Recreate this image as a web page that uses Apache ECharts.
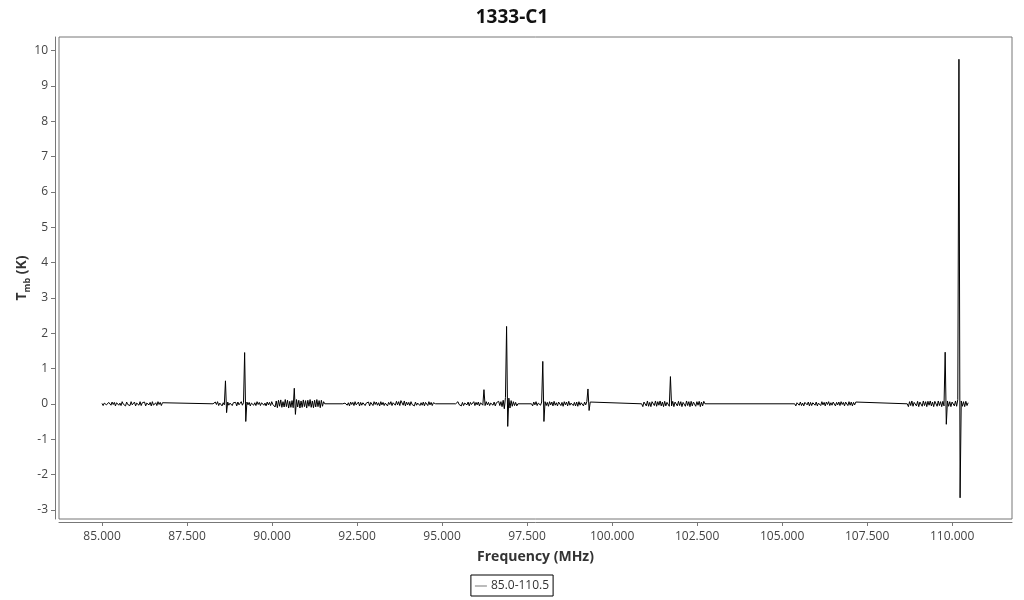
<!DOCTYPE html>
<html>
<head>
<meta charset="utf-8">
<script src="https://cdn.jsdelivr.net/npm/echarts@6/dist/echarts.min.js"></script>
<style>
  html, body { margin: 0; padding: 0; background: #fff; }
  #chart { width: 1024px; height: 600px; }
</style>
</head>
<body>
<div id="chart"></div>
<script>
// spectral windows (MHz), each one sampled evenly between start and end
var segStart = [85.00, 88.265, 92.08, 95.40, 97.63, 100.87, 105.37, 108.68]
var segEnd   = [86.81, 91.55, 94.81, 97.23, 99.39, 102.73, 107.20, 110.47]

// Tmb (K), one array per window
var seg1 = [0.01,-0.05,0.02,0.06,-0.03,-0.06,0.04,0.01,-0.04,0.05,
            -0.02,0.04,-0.06,0.03,0.05,-0.04,0.02,-0.05,0.06,-0.01,
            0.04,-0.06,0.05,-0.02,0.03,-0.05,0.06,-0.03,0.01,0.05,
            -0.06,0.02,0.04,-0.04,0.06,-0.05,0.03,-0.02,0.05,-0.06,
            0.02,0.05,-0.03,0.04,-0.06,0.06,-0.04,0.01,0.03,-0.05,
            0.06,-0.02,0.04,-0.05,0.03,0.0]
var seg2 = [0.0,-0.04,0.05,-0.02,0.06,-0.05,0.02,0.04,-0.06,0.03,
            -0.03,0.65,-0.25,0.05,-0.04,0.02,0.06,-0.05,0.03,-0.02,
            0.04,-0.06,0.05,-0.03,0.02,0.06,-0.04,0.03,1.45,-0.5,
            0.05,-0.03,0.04,-0.06,0.02,0.05,-0.04,0.03,-0.05,0.06,
            -0.02,0.04,-0.05,0.03,0.06,-0.04,0.02,-0.06,0.05,-0.03,
            0.04,-0.05,0.06,-0.02,0.03,-0.09,0.08,-0.11,0.1,-0.07,
            0.11,-0.1,0.06,-0.09,0.12,-0.08,0.1,-0.12,0.07,-0.1,
            0.09,-0.11,0.44,-0.3,0.12,-0.09,0.1,-0.12,0.08,-0.1,
            0.11,-0.08,0.09,-0.12,0.1,-0.07,0.12,-0.1,0.08,-0.11,
            0.1,-0.09,0.12,-0.08,0.09,-0.11,0.1,-0.07,0.06,0.0]
var seg3 = [0.0,-0.05,0.02,0.06,-0.04,0.03,-0.06,0.05,-0.02,0.04,
            -0.05,0.06,-0.03,0.02,0.05,-0.06,0.04,-0.04,0.03,0.06,
            -0.05,0.02,-0.03,0.05,-0.06,0.04,0.03,-0.05,0.06,-0.02,
            0.05,-0.04,0.03,-0.06,0.06,-0.03,0.04,-0.05,0.02,0.05,
            -0.06,0.04,-0.02,0.06,-0.05,0.03,0.05,-0.04,0.07,-0.03,
            0.06,-0.05,0.09,0.13,-0.04,0.08,-0.06,0.05,-0.03,0.04,
            -0.05,0.06,-0.02,0.03,-0.06,0.05,-0.04,0.02,0.06,-0.05,
            0.03,-0.04,0.05,-0.06,0.04,0.02,-0.05,0.06,-0.03,0.04,
            -0.05,0.03,-0.02,0.0]
var seg4 = [0.0,-0.04,0.06,-0.02,0.03,-0.06,0.04,-0.05,0.02,0.06,
            -0.03,0.05,-0.06,0.04,-0.02,0.03,0.06,-0.05,0.04,-0.03,
            0.05,-0.06,0.03,0.02,-0.04,0.4,-0.05,0.06,-0.03,0.04,
            -0.05,0.02,0.06,-0.04,0.05,-0.06,0.03,-0.02,0.07,-0.05,
            0.06,-0.08,0.1,-0.14,0.18,2.19,-0.64,0.16,-0.12,0.09,
            -0.07,0.06,-0.05,0.04,-0.06,0.0]
var seg5 = [0.0,-0.06,0.05,-0.03,0.06,-0.05,0.02,0.07,-0.04,0.05,
            1.2,-0.5,0.06,-0.05,0.04,-0.07,0.06,-0.03,0.05,-0.06,
            0.07,-0.04,0.03,-0.06,0.05,0.06,-0.05,0.04,-0.07,0.06,
            -0.03,0.05,-0.06,0.07,-0.04,0.02,0.06,-0.05,0.04,-0.06,
            0.05,-0.07,0.06,-0.04,0.03,0.07,-0.06,0.05,-0.03,0.06,
            0.42,-0.19,0.05,0.0]
var seg6 = [0.0,-0.08,0.05,0.07,-0.06,0.08,-0.07,0.04,-0.08,0.06,
            0.07,-0.05,0.08,-0.07,0.06,-0.04,0.08,-0.06,0.05,-0.08,
            0.07,-0.06,0.04,0.08,-0.07,0.77,-0.06,0.07,-0.08,0.05,
            0.08,-0.06,0.07,-0.05,0.06,-0.08,0.04,0.07,-0.07,0.08,
            -0.05,0.06,-0.08,0.07,-0.06,0.05,0.08,-0.07,0.06,-0.04,
            0.07,-0.08,0.05,-0.06,0.07,0.0]
var seg7 = [0.0,-0.06,0.03,0.06,-0.04,0.05,-0.05,0.02,-0.06,0.04,
            0.06,-0.03,0.05,-0.06,0.04,-0.05,0.03,0.06,-0.04,0.05,
            -0.06,0.02,0.05,-0.05,0.06,-0.03,0.04,-0.06,0.05,-0.02,
            0.06,-0.05,0.03,-0.04,0.05,0.06,-0.06,0.04,-0.03,0.05,
            -0.05,0.06,-0.02,0.04,-0.06,0.05,0.03,-0.05,0.06,-0.04,
            0.05,-0.06,0.04,-0.03,0.05,0.0]
var seg8 = [0.0,-0.08,0.06,-0.05,0.08,-0.07,0.04,0.08,-0.06,0.07,
            -0.08,0.05,0.07,-0.07,0.08,-0.05,0.06,-0.08,0.07,-0.04,
            0.08,-0.06,0.05,-0.08,0.07,0.06,-0.07,0.08,-0.05,0.06,
            -0.08,0.07,-0.06,1.46,-0.58,0.08,-0.07,0.06,-0.08,0.05,
            0.07,-0.06,0.08,-0.07,0.12,9.75,-2.66,0.08,-0.07,0.06,
            -0.08,0.07,-0.05,0.03]

var xTicks = [85, 87.5, 90, 92.5, 95, 97.5, 100, 102.5, 105, 107.5, 110]
var yTicks = [-3, -2, -1, 0, 1, 2, 3, 4, 5, 6, 7, 8, 9, 10]

var segValues = [seg1, seg2, seg3, seg4, seg5, seg6, seg7, seg8]
var spectrum = []
segValues.forEach(function (vals, s) {
    var step = (segEnd[s] - segStart[s]) / (vals.length - 1)
    vals.forEach(function (v, i) {
        spectrum.push([segStart[s] + i * step, v])
    })
})

var chart = echarts.init(document.getElementById('chart'))
var font = '"Open Sans", "Noto Sans", sans-serif'
var option = {
    animation: false,
    textStyle: { fontFamily: font },
    title: {
        text: '1333-C1',
        left: 'center',
        top: 3,
        textStyle: { fontFamily: font, fontSize: 19, fontWeight: 'bold', color: '#111' }
    },
    legend: {
        data: [{ name: '85.0-110.5', icon: 'rect' }],
        left: 'center',
        top: 575,
        borderColor: '#000',
        borderWidth: 1,
        borderRadius: 0,
        padding: [5, 4, 4, 4],
        itemWidth: 12,
        itemHeight: 1,
        itemGap: 4,
        itemStyle: { color: '#777' },
        textStyle: { fontFamily: font, fontSize: 12, color: '#333', padding: [0, 0, 0, -1] }
    },
    grid: {
        left: 59,
        right: 12,
        top: 37,
        bottom: 81,
        show: true,
        borderColor: '#777',
        borderWidth: 1
    },
    xAxis: {
        type: 'value',
        min: 83.735,
        max: 111.76,
        offset: 3,
        name: 'Frequency (MHz)',
        nameLocation: 'middle',
        nameGap: 28,
        nameMoveOverlap: false,
        nameTextStyle: { fontFamily: font, fontSize: 14, fontWeight: 'bold', color: '#333' },
        axisLine: { show: true, onZero: false, lineStyle: { color: '#777' } },
        axisTick: { show: true, length: 4, lineStyle: { color: '#777' }, customValues: xTicks },
        axisLabel: {
            customValues: xTicks,
            fontSize: 12,
            color: '#444',
            margin: 9,
            formatter: function (v) { return v.toFixed(3) }
        },
        splitLine: { show: false }
    },
    yAxis: {
        type: 'value',
        min: -3.26,
        max: 10.38,
        offset: 4,
        name: '{b|T}{s|mb}{b| (K)}',
        nameLocation: 'middle',
        nameGap: 26,
        nameMoveOverlap: false,
        nameTextStyle: {
            rich: {
                b: { fontFamily: font, fontSize: 14, fontWeight: 'bold', color: '#333', verticalAlign: 'bottom' },
                s: { fontFamily: font, fontSize: 9, fontWeight: 'bold', color: '#333', verticalAlign: 'bottom', padding: [0, 0, -3, 0] }
            }
        },
        axisLine: { show: true, onZero: false, lineStyle: { color: '#777' } },
        axisTick: { show: true, length: 4, lineStyle: { color: '#777' }, customValues: yTicks },
        axisLabel: { customValues: yTicks, fontSize: 12, color: '#444', margin: 7 },
        splitLine: { show: false }
    },
    series: [
        {
            name: '85.0-110.5',
            type: 'line',
            data: spectrum,
            showSymbol: false,
            symbol: 'none',
            lineStyle: { color: '#000', width: 1 },
            itemStyle: { color: '#777' }
        }
    ]
}
chart.setOption(option)
</script>
</body>
</html>
